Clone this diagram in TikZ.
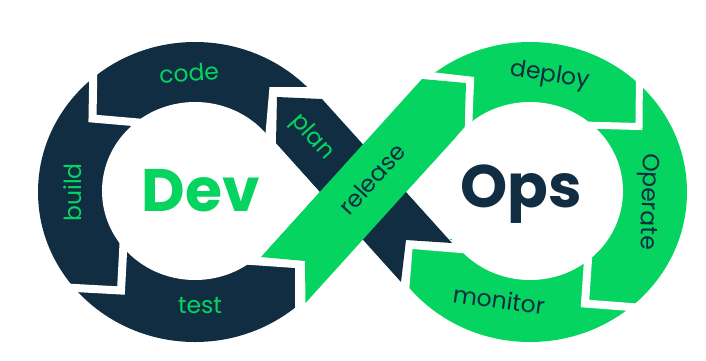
\documentclass[tikz,border=0pt]{standalone}
\usepackage{fontspec}
\newfontfamily\pop{Poppins}
\definecolor{navy}{RGB}{16,45,66}
\definecolor{devgreen}{RGB}{5,212,96}
\begin{document}
\begin{tikzpicture}[x=1pt,y=-1pt,
  gap/.style={draw=white, line width=#1, line join=miter, line cap=butt},
  lbl/.style={font=\pop\fontsize{23.5}{23.5}\selectfont, inner sep=0pt},
  big/.style={font=\pop\bfseries\fontsize{60}{60}\selectfont, inner sep=0pt}]
\useasboundingbox (0,0) rectangle (706,360);
\fill[white] (0,0) rectangle (706,360);
% rings
\fill[navy] (195,192) ellipse [x radius=157pt, y radius=150pt];
\fill[devgreen] (530,192) ellipse [x radius=157pt, y radius=150pt];
\fill[white] (195,191) ellipse [x radius=93pt, y radius=89pt];
\fill[white] (530,191) ellipse [x radius=93pt, y radius=89pt];
% wedges between the bands
\fill[white] (320,192) -- (276,143) -- (200,192) -- (263,255) -- cycle;
\fill[white] (406,192) -- (463,129.6) -- (525,192) -- (449,240) -- cycle;
% gaps
\draw[gap=12] (335,93) -- (275,93) -- (270.5,145);
\draw[gap=8] (93.5,60) -- (92.5,118.5) -- (150,123.5);
\draw[gap=8] (55,286.9) -- (121,290.5) -- (123.7,240);
\draw[gap=12] (245,258.5) -- (301,262.4) -- (301,320);
\draw[gap=12] (410,75.6) -- (468,82.3) -- (466,132);
\draw[gap=7] (639.5,70) -- (639,126.5) -- (583,125);
\draw[gap=8] (589,245) -- (585,303.5) -- (650,308.5);
\draw[gap=12] (475,248.2) -- (407,242.5) -- (402.4,300);
% bands
\fill[navy] (277,97) -- (322,99) -- (452,243) -- (406,240) -- (401,282) -- (276,143) -- cycle;
\fill[devgreen] (261,257) -- (305,261) -- (305.5,303) -- (464.7,127) -- (466,83) -- (422,79) -- cycle;
% labels
\node[lbl, text=devgreen, rotate=4] (code) at (189,73) {code};
\node[lbl, text=devgreen, rotate=90] (build) at (73,192.5) {build};
\node[lbl, text=devgreen] (test) at (200,306) {test};
\node[lbl, text=devgreen, rotate=-48] (plan) at (312,137) {plan};
\node[lbl, text=navy, rotate=48] (release) at (372,179) {release};
\node[lbl, text=navy, rotate=-9] (deploy) at (550,76) {deploy};
\node[lbl, text=navy, rotate=-92] (operate) at (647.5,201.5) {Operate};
\node[lbl, text=navy, rotate=-8] (monitor) at (499,300) {monitor};
\node[big, text=devgreen] (dev) at (201,190.5) {Dev};
\node[big, text=navy] (ops) at (521,194) {Ops};
\end{tikzpicture}
\end{document}
